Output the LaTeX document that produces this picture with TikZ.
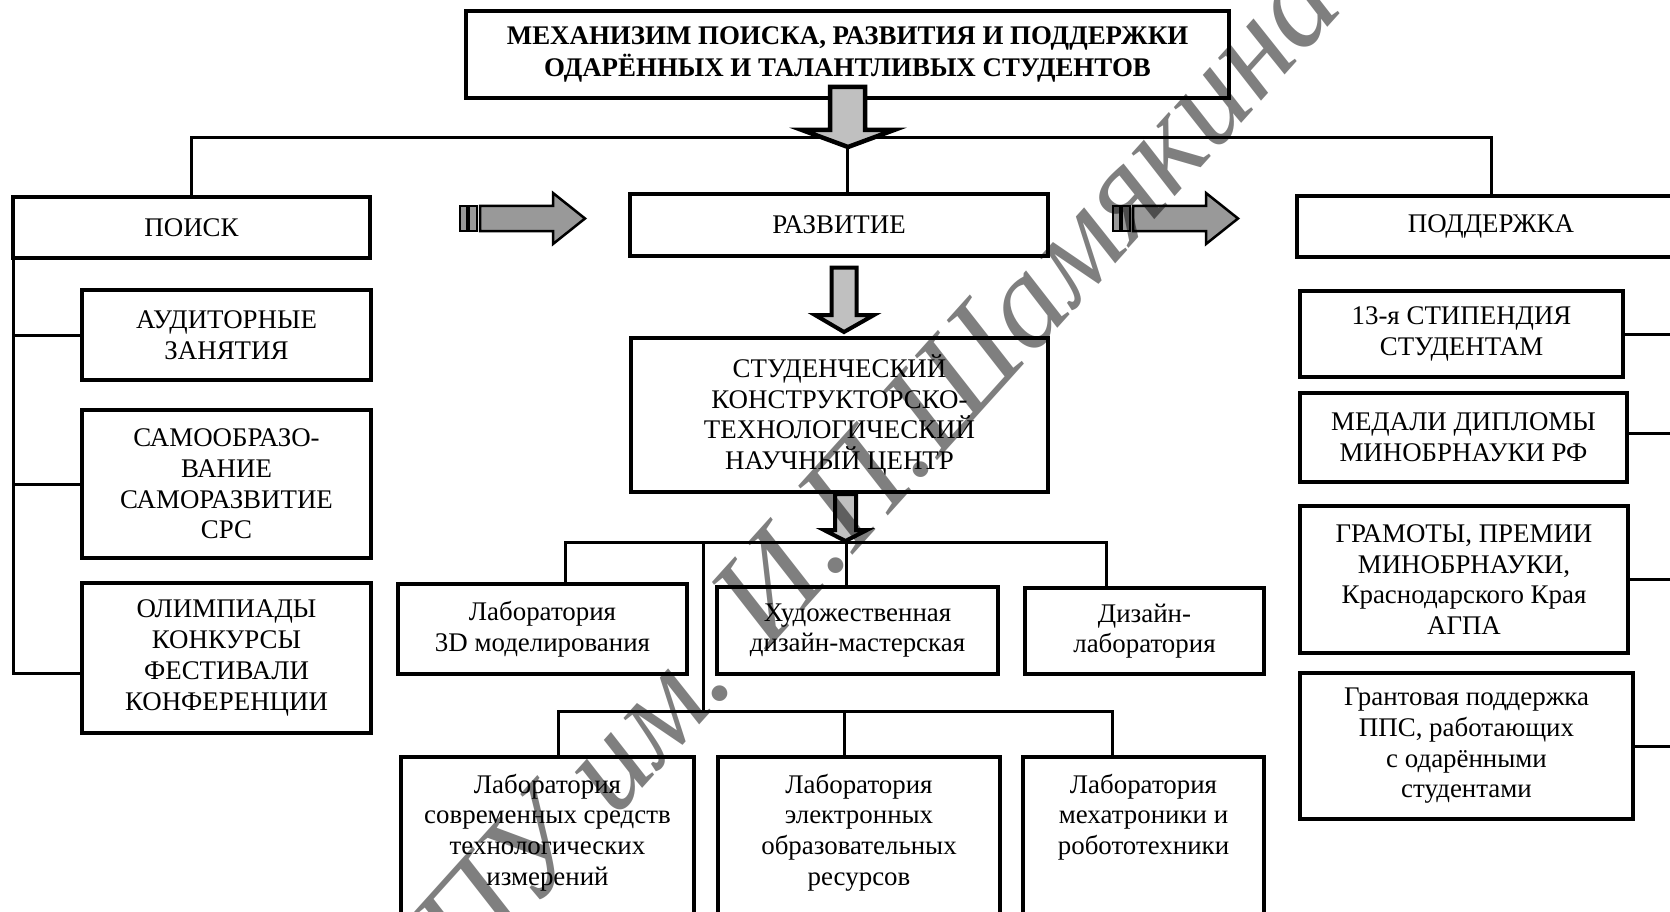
\documentclass[tikz,border=0pt]{standalone}
\usepackage{fontspec}
\setmainfont{Liberation Serif}
\definecolor{arrowlight}{HTML}{C0C0C0}
\definecolor{arrowdark}{HTML}{999999}
\tikzset{
  box/.style={draw, line width=3.3pt, fill=white, align=center, inner sep=0pt, outer sep=0pt,
              font=\fontsize{26.9}{30.7}\selectfont},
  conn/.style={line width=3pt},
  downarrow/.style={draw, line width=4.5pt, fill=arrowlight, line join=miter, miter limit=6},
  sidearrow/.style={draw, line width=2.5pt, fill=arrowdark, line join=miter},
  tailbar/.style={draw, line width=1.6pt, fill=arrowdark},
  wmark/.style={font=\fontsize{132}{132}\selectfont\itshape, text=black, text opacity=0.5,
                inner sep=0pt, rotate=48, anchor=base west}
}
\begin{document}
\begin{tikzpicture}[x=1pt, y=-1pt]
\useasboundingbox (0,0) rectangle (1670,912);
\clip (0,0) rectangle (1670,912);
\fill[white] (0,0) rectangle (1670,912);

% ---------- top ----------
\node[box, minimum width=763pt, minimum height=87pt,
      font=\fontsize{26.9}{32}\selectfont\bfseries] (title) at (847.5,54.5)
  {МЕХАНИЗИМ ПОИСКА, РАЗВИТИЯ И ПОДДЕРЖКИ\\ОДАРЁННЫХ И ТАЛАНТЛИВЫХ СТУДЕНТОВ};

\node[box, minimum width=357pt, minimum height=61pt] (poisk) at (191.5,227.5) {ПОИСК};
\node[box, minimum width=418pt, minimum height=62pt] (razv) at (839,225) {РАЗВИТИЕ};
\node[box, minimum width=388pt, minimum height=61pt] (podd) at (1491,226.5) {ПОДДЕРЖКА};

\coordinate (hl) at (847,138);
\draw[conn] (poisk.north) |- (hl) -| (podd.north);
\draw[conn] (hl) -- (hl |- razv.north);

% big down arrow under title
\path[downarrow] (830,87) -- (865,87) -- (865,130) -- (894,130) -- (848,147)
   -- (802,130) -- (830,130) -- cycle;

% side arrows
\path[tailbar] (460,206) rectangle (467,231);
\path[tailbar] (469,206) rectangle (477,231);
\path[sidearrow] (480,206) -- (553,206) -- (553,193) -- (585,218.5) -- (553,244)
   -- (553,231) -- (480,231) -- cycle;
\begin{scope}[xshift=653pt]
\path[tailbar] (460,206) rectangle (467,231);
\path[tailbar] (469,206) rectangle (477,231);
\path[sidearrow] (480,206) -- (553,206) -- (553,193) -- (585,218.5) -- (553,244)
   -- (553,231) -- (480,231) -- cycle;
\end{scope}

% ---------- left column ----------
\node[box, minimum width=289pt, minimum height=90pt] (aud) at (226.5,335)
  {АУДИТОРНЫЕ\\ЗАНЯТИЯ};
\node[box, minimum width=289pt, minimum height=148pt] (samo) at (226.5,484)
  {САМООБРАЗО-\\ВАНИЕ\\САМОРАЗВИТИЕ\\СРС};
\node[box, minimum width=289pt, minimum height=150pt] (olimp) at (226.5,658)
  {ОЛИМПИАДЫ\\КОНКУРСЫ\\ФЕСТИВАЛИ\\КОНФЕРЕНЦИИ};

\draw[conn] (poisk.south west) |- ([yshift=-15pt]olimp.west);
\draw[conn] (aud.west) -- (aud.west -| poisk.west);
\draw[conn] (samo.west) -- (samo.west -| poisk.west);

% ---------- centre column ----------
\node[box, minimum width=417pt, minimum height=154pt] (stud) at (839.5,415)
  {СТУДЕНЧЕСКИЙ\\КОНСТРУКТОРСКО-\\ТЕХНОЛОГИЧЕСКИЙ\\НАУЧНЫЙ ЦЕНТР};

\path[downarrow, line width=4pt] (831.5,267.5) -- (856.5,267.5) -- (856.5,315) -- (874,315)
   -- (844,332) -- (815,315) -- (831.5,315) -- cycle;

\node[box, minimum width=289pt, minimum height=90pt] (lab3d) at (542.5,629)
  {Лаборатория\\3D моделирования};
\node[box, minimum width=281pt, minimum height=87pt] (hud) at (857.5,630.5)
  {Художественная\\дизайн-мастерская};
\node[box, minimum width=239pt, minimum height=86pt] (diz) at (1144.5,631)
  {Дизайн-\\лаборатория};

\coordinate (r1) at (846,542);
\coordinate (r1b) at (703,542);
\coordinate (r2) at (703,711);
\draw[conn] ([xshift=22.5pt]lab3d.north) |- (r1) -| ([xshift=-38.5pt]diz.north);
\draw[conn] (r1) -- ([xshift=-11.5pt]hud.north);
\draw[conn] (r1b) -- (r2);

\path[downarrow, line width=4pt] (835,494) -- (856,494) -- (856,530) -- (867,530)
   -- (845.5,541) -- (824,530) -- (835,530) -- cycle;

\node[box, anchor=north west] (labA) at (401,757)
  {\parbox[t][200pt][t]{293pt}{\centering\rule{0pt}{36pt}Лаборатория\\современных средств\\технологических\\измерений}};
\node[box, anchor=north west] (labB) at (718,757)
  {\parbox[t][200pt][t]{282pt}{\centering\rule{0pt}{36pt}Лаборатория\\электронных\\образовательных\\ресурсов}};
\node[box, anchor=north west] (labC) at (1023,757)
  {\parbox[t][200pt][t]{241pt}{\centering\rule{0pt}{36pt}Лаборатория\\мехатроники и\\робототехники}};

\draw[conn] ([xshift=11pt]labA.north) |- (r2) -| ([xshift=-31.5pt]labC.north);
\draw[conn] (r2) -| ([xshift=-15pt]labB.north);

% ---------- right column ----------
\node[box, minimum width=323pt, minimum height=86pt] (stip) at (1461.5,334)
  {13-я СТИПЕНДИЯ\\СТУДЕНТАМ};
\node[box, minimum width=327pt, minimum height=89pt] (medal) at (1463.5,437.5)
  {МЕДАЛИ ДИПЛОМЫ\\МИНОБРНАУКИ РФ};
\node[box, minimum width=328pt, minimum height=147pt] (gram) at (1464,579.5)
  {ГРАМОТЫ, ПРЕМИИ\\МИНОБРНАУКИ,\\Краснодарского Края\\АГПА};
\node[box, minimum width=333pt, minimum height=146pt] (grant) at (1466.5,746)
  {Грантовая поддержка\\ППС, работающих\\с одарёнными\\студентами};

\draw[conn] (stip.east) -- (stip.east -| podd.east);
\draw[conn] ([yshift=4pt]medal.east) -- ([yshift=4pt]medal.east -| podd.east);
\draw[conn] (gram.east) -- (gram.east -| podd.east);
\draw[conn] (grant.east) -- (grant.east -| podd.east);

% ---------- watermark ----------
\node[wmark] (wm) at (346,1118) {МГПУ им. И.П.Шамякина};
\end{tikzpicture}
\end{document}
